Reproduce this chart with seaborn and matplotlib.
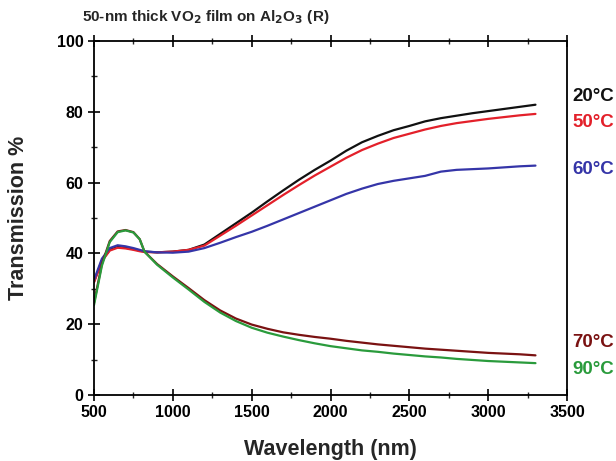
import numpy as np
import pandas as pd
import matplotlib
matplotlib.use("Agg")
import matplotlib.pyplot as plt
import matplotlib.transforms as mtransforms
from matplotlib.ticker import MultipleLocator
import seaborn as sns

wavelength = [500, 550, 600, 650, 700, 750, 790, 820, 900, 1000, 1100, 1200, 1300, 1400,
              1500, 1600, 1700, 1800, 1900, 2000, 2100, 2200, 2300, 2400, 2500, 2600,
              2700, 2800, 2900, 3000, 3100, 3200, 3300]

t20 = [32.0, 38.0, 41.0, 41.8, 41.6, 41.2, 40.8, 40.5, 40.3, 40.5, 41.0, 42.5, 45.5, 48.5,
       51.5, 54.7, 57.8, 60.8, 63.6, 66.2, 69.0, 71.4, 73.2, 74.8, 76.0, 77.3,
       78.2, 78.9, 79.6, 80.2, 80.8, 81.4, 82.0]
t50 = [31.8, 37.8, 40.8, 41.6, 41.4, 41.0, 40.6, 40.4, 40.3, 40.5, 41.0, 42.2, 45.0, 47.8,
       50.7, 53.6, 56.5, 59.3, 62.0, 64.5, 67.0, 69.2, 71.0, 72.6, 73.8, 75.0,
       76.0, 76.8, 77.4, 78.0, 78.5, 79.0, 79.4]
t60 = [32.5, 38.5, 41.5, 42.3, 42.0, 41.5, 41.0, 40.6, 40.3, 40.2, 40.5, 41.5, 43.0, 44.6,
       46.1, 47.8, 49.6, 51.4, 53.2, 55.0, 56.8, 58.3, 59.6, 60.5, 61.2, 61.9,
       63.1, 63.6, 63.8, 64.0, 64.3, 64.6, 64.8]
t70 = [26.0, 37.0, 43.5, 46.2, 46.6, 46.0, 44.0, 40.5, 37.0, 33.5, 30.2, 26.8, 23.9, 21.6,
       19.9, 18.7, 17.7, 17.0, 16.4, 15.9, 15.3, 14.8, 14.3, 13.9, 13.5, 13.1,
       12.8, 12.5, 12.2, 11.9, 11.7, 11.5, 11.2]
t90 = [25.4, 36.5, 43.2, 46.0, 46.5, 45.9, 44.0, 40.5, 36.8, 33.2, 29.8, 26.3, 23.3, 20.9,
       19.0, 17.6, 16.5, 15.5, 14.6, 13.8, 13.2, 12.6, 12.2, 11.7, 11.3, 10.9,
       10.6, 10.2, 9.9, 9.6, 9.4, 9.2, 9.0]

series_names = ["20°C", "50°C", "60°C", "70°C", "90°C"]
series_values = [t20, t50, t60, t70, t90]
label_y = [84.2, 77.1, 63.6, 14.7, 7.1]
colors = ["#111111", "#e3202a", "#3535a8", "#7a1212", "#2a9b3c"]

frames = [pd.DataFrame({"Wavelength": wavelength, "T": v, "series": n})
          for n, v in zip(series_names, series_values)]
df = pd.concat(frames, ignore_index=True)

sns.set_style("ticks")
plt.rcParams["font.family"] = ["Liberation Sans", "DejaVu Sans"]
plt.rcParams["font.weight"] = "bold"

fig = plt.figure(figsize=(6.16, 4.61), dpi=100)
ax = fig.add_axes([94/616, 66/461, 473/616, 354/461])

sns.lineplot(data=df, x="Wavelength", y="T", hue="series", palette=colors,
             estimator=None, sort=False, linewidth=1.6, legend=False, ax=ax)

ax.set_xlim(500, 3500)
ax.set_ylim(0, 100)
ax.xaxis.set_major_locator(MultipleLocator(500))
ax.xaxis.set_minor_locator(MultipleLocator(250))
ax.yaxis.set_major_locator(MultipleLocator(20))
ax.yaxis.set_minor_locator(MultipleLocator(10))
ax.tick_params(axis="both", which="major", direction="inout", length=8, width=1.2,
               labelsize=11.5, colors="black")
ax.tick_params(axis="both", which="minor", direction="inout", length=5, width=1.0)
ax.tick_params(axis="x", which="both", top=True)
ax.tick_params(axis="y", which="both", right=False)
for lab in ax.get_xticklabels() + ax.get_yticklabels():
    lab.set_fontweight("bold")
for s in ax.spines.values():
    s.set_linewidth(1.3)
    s.set_color("black")
    s.set_visible(True)

ax.set_xlabel("Wavelength (nm)", fontsize=15.5, fontweight="bold")
ax.set_ylabel("Transmission %", fontsize=15.5, fontweight="bold")
ax.xaxis.set_label_coords(0.5, -(449 - 395) / 354, transform=ax.transAxes)
ax.xaxis.label.set_va("center")
ax.yaxis.set_label_coords(-(94 - 19) / 473, 0.5, transform=ax.transAxes)
ax.yaxis.label.set_va("center")

trans = mtransforms.blended_transform_factory(ax.transAxes, ax.transData)
for n, y, c in zip(series_names, label_y, colors):
    ax.text(1.011, y, n, transform=trans, color=c, fontsize=13.5, fontweight="bold",
            ha="left", va="center", clip_on=False)

fig.text(82/616, 1 - 17/461, "50-nm thick VO$_\\mathbf{2}$ film on Al$_\\mathbf{2}$O$_\\mathbf{3}$ (R)",
         fontsize=11, fontweight="bold", ha="left", va="center")

fig.savefig("out.png", dpi=100)
